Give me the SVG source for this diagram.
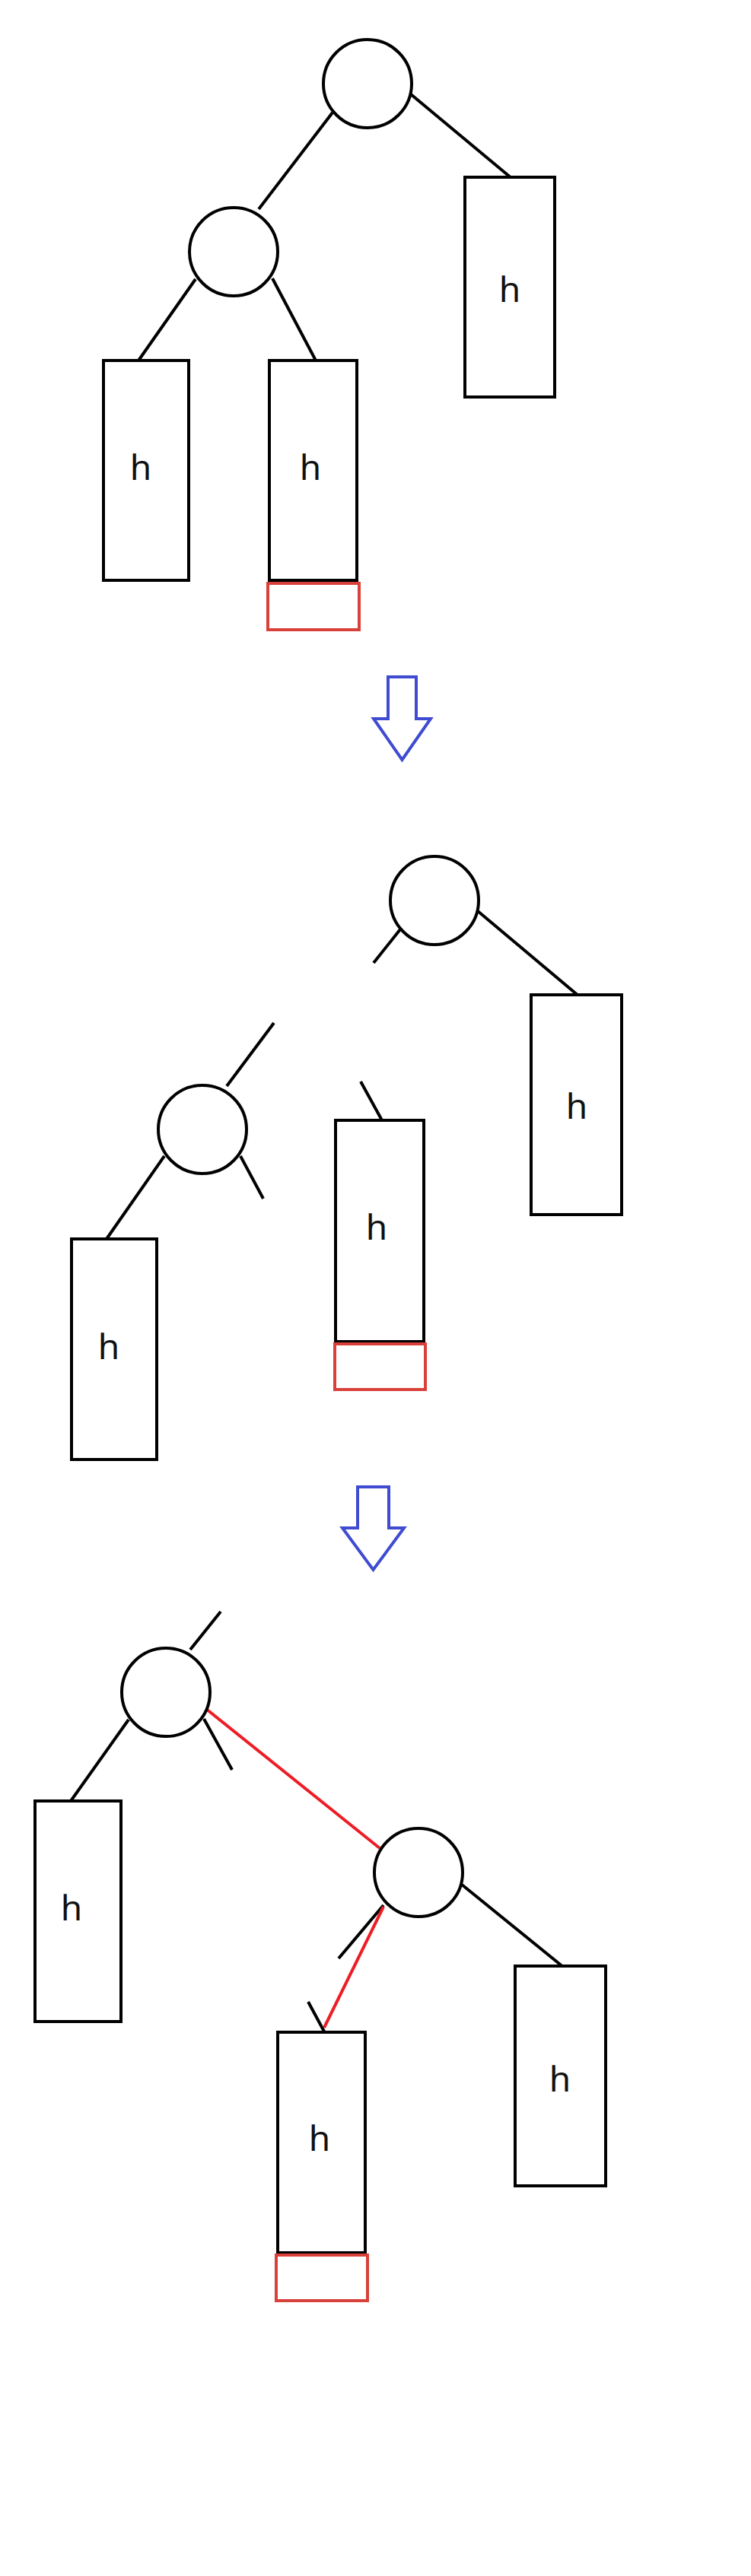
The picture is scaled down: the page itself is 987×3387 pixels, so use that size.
<svg xmlns="http://www.w3.org/2000/svg" width="987" height="3387" viewBox="0 0 987 3387">
<style>
.n{fill:#fff;stroke:#000;stroke-width:4}
.e{stroke:#000;stroke-width:4;fill:none}
.r{stroke:#ee1c25;stroke-width:4;fill:none}
.rb{fill:none;stroke:#d9403a;stroke-width:4}
.ar{fill:#fff;stroke:#3f4bd0;stroke-width:4;stroke-linejoin:miter}
.t{font-family:"Noto Sans","DejaVu Sans",sans-serif;font-size:46px;fill:#111;text-anchor:middle}
</style>
<rect width="987" height="3387" fill="#fff"/>
<g id="connectors">
<line class="e" x1="437" y1="148" x2="340" y2="275"/>
<line class="e" x1="540" y1="124" x2="672" y2="234"/>
<line class="e" x1="257" y1="367" x2="182" y2="474"/>
<line class="e" x1="358" y1="366" x2="415" y2="474"/>
<line class="e" x1="526" y1="1222" x2="491" y2="1266"/>
<line class="e" x1="628" y1="1198" x2="760" y2="1309"/>
<line class="e" x1="360" y1="1345" x2="298" y2="1428"/>
<line class="e" x1="216" y1="1520" x2="140" y2="1629"/>
<line class="e" x1="316" y1="1520" x2="346" y2="1576"/>
<line class="e" x1="474" y1="1422" x2="502" y2="1473"/>
<line class="e" x1="250" y1="2169" x2="290" y2="2119"/>
<line class="e" x1="169" y1="2261" x2="93" y2="2368"/>
<line class="e" x1="268" y1="2260" x2="305" y2="2327"/>
<line class="e" x1="607" y1="2478" x2="740" y2="2586"/>
<line class="e" x1="504" y1="2505" x2="445" y2="2575"/>
<line class="e" x1="405" y1="2632" x2="426" y2="2671"/>
<line class="r" x1="271" y1="2247" x2="499" y2="2430"/>
<line class="r" x1="504" y1="2507" x2="426" y2="2666"/>
</g>
<g id="p1-root"><circle class="n" cx="483" cy="110" r="58"/></g>
<g id="p1-child"><circle class="n" cx="307" cy="331" r="58"/></g>
<g id="p1-right"><rect class="n" x="611" y="233" width="118" height="289"/><text class="t" x="670" y="397">h</text></g>
<g id="p1-left"><rect class="n" x="136" y="474" width="112" height="289"/><text class="t" x="185" y="631">h</text></g>
<g id="p1-mid"><rect class="n" x="354" y="474" width="115" height="289"/><text class="t" x="408" y="631">h</text></g>
<g id="p1-extra"><rect class="rb" x="352" y="767" width="120" height="61"/></g>
<g id="arrow1"><path class="ar" d="M510,890 H547 V945 H566 L528.5,999 L491,945 H510 Z"/></g>
<g id="p2-root"><circle class="n" cx="571" cy="1184" r="58"/></g>
<g id="p2-right"><rect class="n" x="698" y="1308" width="119" height="289"/><text class="t" x="758" y="1471">h</text></g>
<g id="p2-child"><circle class="n" cx="266" cy="1485" r="58"/></g>
<g id="p2-mid"><rect class="n" x="441" y="1473" width="116" height="291"/><text class="t" x="495" y="1630">h</text></g>
<g id="p2-extra"><rect class="rb" x="440" y="1767" width="119" height="60"/></g>
<g id="p2-left"><rect class="n" x="94" y="1629" width="112" height="290"/><text class="t" x="143" y="1787">h</text></g>
<g id="arrow2"><path class="ar" d="M470,1955 H511 V2009 H531 L490.5,2064 L450,2009 H470 Z"/></g>
<g id="p3-child"><circle class="n" cx="218" cy="2225" r="58"/></g>
<g id="p3-left"><rect class="n" x="46" y="2368" width="113" height="290"/><text class="t" x="94" y="2525">h</text></g>
<g id="p3-root"><circle class="n" cx="550" cy="2462" r="58"/></g>
<g id="p3-right"><rect class="n" x="677" y="2585" width="119" height="289"/><text class="t" x="736" y="2750">h</text></g>
<g id="p3-mid"><rect class="n" x="365" y="2672" width="115" height="290"/><text class="t" x="420" y="2828">h</text></g>
<g id="p3-extra"><rect class="rb" x="363" y="2965" width="120" height="60"/></g>
</svg>
